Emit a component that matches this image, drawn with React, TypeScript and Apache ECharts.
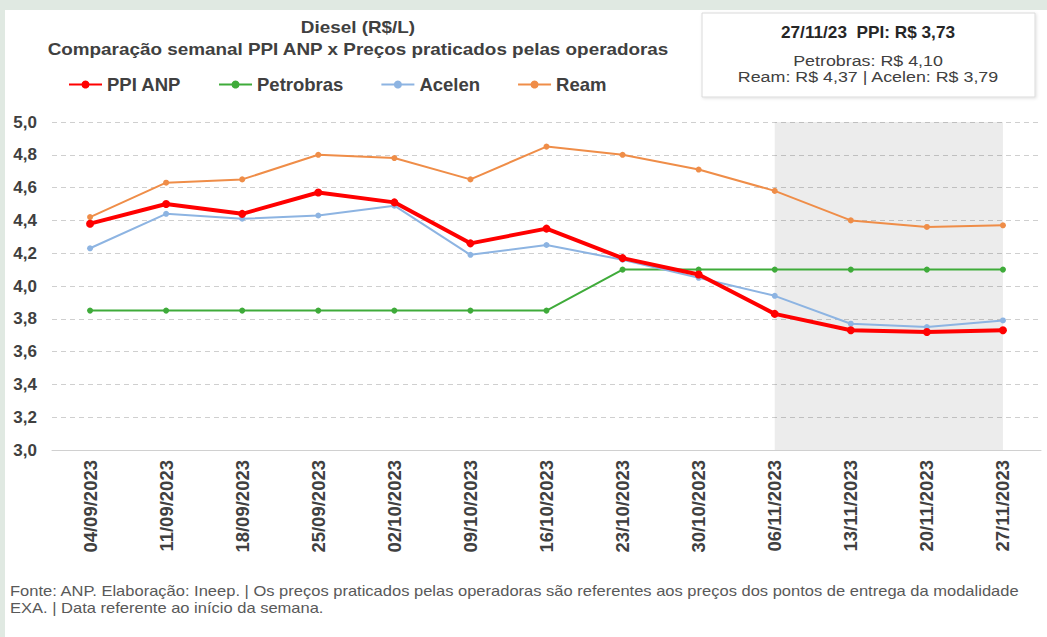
import React, { useEffect, useRef } from "react";
import * as echarts from "echarts";

const categories = [
  "04/09/2023", "11/09/2023", "18/09/2023", "25/09/2023", "02/10/2023",
  "09/10/2023", "16/10/2023", "23/10/2023", "30/10/2023", "06/11/2023",
  "13/11/2023", "20/11/2023", "27/11/2023",
];
const ppiAnp = [4.38, 4.50, 4.44, 4.57, 4.51, 4.26, 4.35, 4.17, 4.07, 3.83, 3.73, 3.72, 3.73];
const petrobras = [3.85, 3.85, 3.85, 3.85, 3.85, 3.85, 3.85, 4.10, 4.10, 4.10, 4.10, 4.10, 4.10];
const acelen = [4.23, 4.44, 4.41, 4.43, 4.49, 4.19, 4.25, 4.16, 4.05, 3.94, 3.77, 3.75, 3.79];
const ream = [4.42, 4.63, 4.65, 4.80, 4.78, 4.65, 4.85, 4.80, 4.71, 4.58, 4.40, 4.36, 4.37];
const shadedFrom = "06/11/2023";
const shadedTo = "27/11/2023";

const titleLine1 = "Diesel (R$/L)";
const titleLine2 = "Comparação semanal PPI ANP x Preços praticados pelas operadoras";
const boxLine1 = "27/11/23  PPI: R$ 3,73";
const boxLine2 = "Petrobras: R$ 4,10";
const boxLine3 = "Ream: R$ 4,37 | Acelen: R$ 3,79";
const footer1 =
  "Fonte: ANP. Elaboração: Ineep. | Os preços praticados pelas operadoras são referentes aos preços dos pontos de entrega da modalidade";
const footer2 = "EXA. | Data referente ao início da semana.";

const FONT = "'Liberation Sans', Arial, sans-serif";
const TXT = "#404040";

export default function App() {
  const ref = useRef<HTMLDivElement>(null);
  useEffect(() => {
    if (!ref.current) return;
    const chart = echarts.init(ref.current, null, { renderer: "svg" });
    const mkSeries = (name: string, data: number[], color: string, width: number, size: number, extra: any = {}) => ({
      name,
      type: "line",
      data,
      symbol: "circle",
      symbolSize: size,
      lineStyle: { color, width },
      itemStyle: { color },
      ...extra,
    });
    const txt = (text: string, x: number, y: number, font: string, fill: string, align: string, sx: number) => ({
      type: "text",
      x,
      y,
      scaleX: sx,
      style: { text, fill, font, textAlign: align, textVerticalAlign: "middle" },
    });
    chart.setOption({
      animation: false,
      backgroundColor: "#e0e9e2",
      textStyle: { fontFamily: FONT },
      graphic: [
        { type: "rect", z: -10, shape: { x: 5, y: 10, width: 1042, height: 627 }, style: { fill: "#ffffff" } },
        txt(titleLine1, 358, 28, `bold 16px ${FONT}`, TXT, "center", 1.18),
        txt(titleLine2, 358, 50, `bold 16px ${FONT}`, TXT, "center", 1.18),
        {
          type: "rect", shape: { x: 702, y: 13, width: 333, height: 84 },
          style: { fill: "#ffffff", stroke: "#dadada", lineWidth: 1, shadowBlur: 3, shadowColor: "rgba(0,0,0,0.12)", shadowOffsetX: 1, shadowOffsetY: 1 },
        },
        txt(boxLine1, 868, 33, `bold 16px ${FONT}`, "#262626", "center", 1.075),
        txt(boxLine2, 868, 61, `15px ${FONT}`, TXT, "center", 1.19),
        txt(boxLine3, 868, 77, `15px ${FONT}`, TXT, "center", 1.19),
        txt(footer1, 10, 591, `14px ${FONT}`, "#595959", "left", 1.18),
        txt(footer2, 10, 608, `14px ${FONT}`, "#595959", "left", 1.18),
      ],
      legend: {
        left: 68,
        top: 75,
        padding: 0,
        itemWidth: 33,
        itemHeight: 10,
        itemGap: 37,
        textStyle: { color: TXT, fontWeight: "bold", fontSize: 18.5, fontFamily: FONT },
        data: ["PPI ANP", "Petrobras", "Acelen", "Ream"],
      },
      grid: { left: 52, top: 122, width: 989, height: 328, containLabel: false },
      xAxis: {
        type: "category",
        data: categories,
        boundaryGap: true,
        axisLine: { lineStyle: { color: "#d0d0d0", width: 1 } },
        axisTick: { alignWithLabel: true, length: 5, lineStyle: { color: "#d0d0d0" } },
        axisLabel: { rotate: 90, color: TXT, fontWeight: "bold", fontSize: 18.5, fontFamily: FONT, margin: 10, interval: 0 },
      },
      yAxis: {
        type: "value",
        min: 3,
        max: 5,
        interval: 0.2,
        axisLine: { show: false },
        axisTick: { show: false },
        splitLine: { lineStyle: { color: "#cfcfcf", type: [5, 4], width: 1 } },
        axisLabel: {
          color: TXT, fontWeight: "bold", fontSize: 17, fontFamily: FONT, margin: 15,
          formatter: (v: number) => v.toFixed(1).replace(".", ","),
        },
      },
      series: [
        mkSeries("PPI ANP", ppiAnp, "#ff0000", 4, 8, {
          z: 5,
          markArea: {
            silent: true,
            itemStyle: { color: "rgba(0,0,0,0.075)" },
            data: [[{ xAxis: shadedFrom }, { xAxis: shadedTo }]],
          },
        }),
        mkSeries("Petrobras", petrobras, "#3fab3a", 2, 6),
        mkSeries("Acelen", acelen, "#8db4e2", 2, 6),
        mkSeries("Ream", ream, "#ef8d48", 2, 6),
      ],
    });
    return () => chart.dispose();
  }, []);
  return <div ref={ref} style={{ position: "fixed", left: 0, top: 0, width: 1047, height: 637 }} />;
}
